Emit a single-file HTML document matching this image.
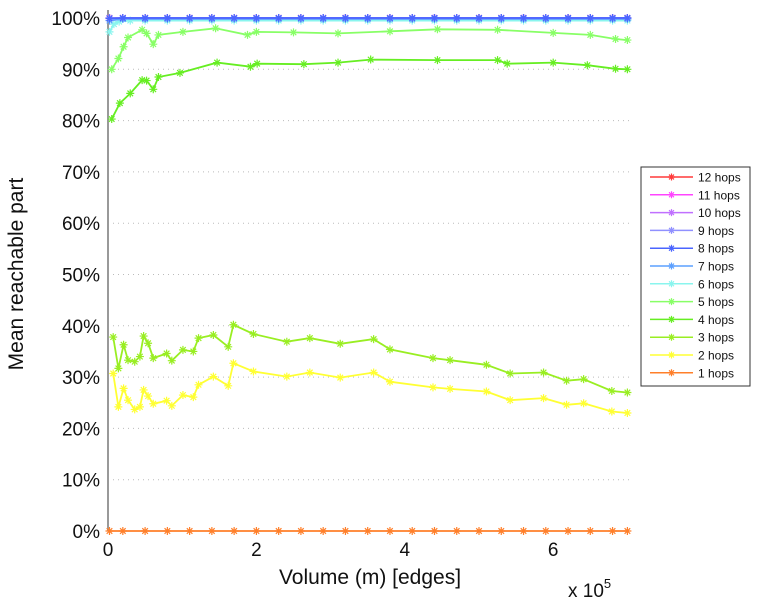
<!DOCTYPE html>
<html><head><meta charset="utf-8"><style>
body{margin:0;background:#fff}
svg{display:block;font-family:"Liberation Sans",sans-serif}
</style></head><body>
<svg id="chart" width="760" height="600" viewBox="0 0 760 600" xmlns="http://www.w3.org/2000/svg">
<rect width="760" height="600" fill="#fff"/>
<g id="grid"></g><g id="axes"></g><g id="series"></g><g id="legend"></g>
</svg>
<script>
const yTicks=[0,10,20,30,40,50,60,70,80,90,100];
const xTicks=[0,2,4,6];
const seriesNames=["12 hops","11 hops","10 hops","9 hops","8 hops","7 hops","6 hops","5 hops","4 hops","3 hops","2 hops","1 hops"];
const xFlat=[0.02,0.2,0.5,0.8,1.1,1.4,1.7,2.0,2.3,2.6,2.9,3.2,3.5,3.8,4.1,4.4,4.7,5.0,5.3,5.6,5.9,6.2,6.5,6.8,7.0];
const v12=[100,100,100,100,100,100,100,100,100,100,100,100,100,100,100,100,100,100,100,100,100,100,100,100,100];
const v11=[100,100,100,100,100,100,100,100,100,100,100,100,100,100,100,100,100,100,100,100,100,100,100,100,100];
const v10=[100,100,100,100,100,100,100,100,100,100,100,100,100,100,100,100,100,100,100,100,100,100,100,100,100];
const v9=[100,100,100,100,100,100,100,100,100,100,100,100,100,100,100,100,100,100,100,100,100,100,100,100,100];
const v8=[99.9,100,100,100,100,100,100,100,100,100,100,100,100,100,100,100,100,100,100,100,100,100,100,100,100];
const v7=[99.5,99.8,99.8,99.8,99.8,99.8,99.8,99.8,99.8,99.8,99.8,99.8,99.8,99.8,99.8,99.8,99.8,99.8,99.8,99.8,99.8,99.8,99.8,99.8,99.8];
const x6=[0.02,0.08,0.15,0.3,0.5,0.8,1.1,1.4,1.7,2.0,2.3,2.6,2.9,3.2,3.5,3.8,4.1,4.4,4.7,5.0,5.3,5.6,5.9,6.2,6.5,6.8,7.0];
const v6=[97.3,98.8,99.3,99.5,99.5,99.5,99.5,99.5,99.5,99.5,99.5,99.5,99.5,99.5,99.5,99.5,99.5,99.5,99.5,99.5,99.5,99.5,99.5,99.5,99.5,99.5,99.5];
const x5=[0.05,0.14,0.21,0.27,0.46,0.52,0.61,0.68,1.01,1.45,1.88,2.0,2.5,3.1,3.8,4.44,5.25,6.0,6.5,6.84,7.0];
const v5=[90.0,92.1,94.4,96.2,97.7,97.0,94.9,96.7,97.3,98.0,96.7,97.3,97.2,97.0,97.4,97.8,97.7,97.1,96.7,95.9,95.7];
const x4=[0.05,0.16,0.3,0.46,0.52,0.61,0.68,0.97,1.47,1.92,2.01,2.64,3.1,3.54,4.44,5.25,5.38,6.0,6.46,6.84,7.0];
const v4=[80.3,83.4,85.3,87.9,87.8,86.1,88.5,89.3,91.3,90.5,91.1,91.0,91.3,91.9,91.8,91.8,91.1,91.3,90.8,90.1,90.0];
const x23=[0.07,0.14,0.21,0.27,0.36,0.43,0.48,0.54,0.61,0.79,0.86,1.01,1.15,1.22,1.42,1.62,1.69,1.96,2.41,2.72,3.13,3.58,3.80,4.38,4.61,5.10,5.42,5.87,6.18,6.41,6.79,7.0];
const v3=[37.8,31.7,36.3,33.3,33.0,34.0,38.0,36.6,33.7,34.6,33.2,35.3,35.0,37.6,38.2,35.9,40.2,38.4,36.9,37.6,36.5,37.4,35.4,33.7,33.3,32.4,30.7,30.9,29.3,29.6,27.3,27.0];
const v2=[30.7,24.2,27.8,25.5,23.7,24.2,27.5,26.3,24.8,25.4,24.4,26.5,26.1,28.5,30.1,28.3,32.7,31.1,30.1,30.9,29.9,30.9,29.1,28.0,27.7,27.2,25.5,25.9,24.6,24.9,23.3,23.0];
const v1=[0,0,0,0,0,0,0,0,0,0,0,0,0,0,0,0,0,0,0,0,0,0,0,0,0];
const colors=["#ff3a3a","#ff44ff","#c070ff","#9090ff","#4a64ff","#5ca0ff","#8af5ee","#88ff66","#66ee22","#99ee22","#ffff33","#ff7f2a"];
const seriesData=[[xFlat,v12],[xFlat,v11],[xFlat,v10],[xFlat,v9],[xFlat,v8],[xFlat,v7],[x6,v6],[x5,v5],[x4,v4],[x23,v3],[x23,v2],[xFlat,v1]];
const drawOrder=[11,10,9,8,7,0,1,2,6,5,3,4];

const NS="http://www.w3.org/2000/svg";
const X0=108,XPX=74.2,Y0=531,YPX=5.13;
function sx(v){return X0+v*XPX;}
function sy(v){return Y0-v*YPX;}
function mk(tag,attrs,parent,text){const e=document.createElementNS(NS,tag);for(const k in attrs)e.setAttribute(k,attrs[k]);if(text!==undefined)e.textContent=text;parent.appendChild(e);return e;}
const grid=document.getElementById('grid'),axes=document.getElementById('axes'),ser=document.getElementById('series'),leg=document.getElementById('legend');

yTicks.forEach(t=>{
  if(t>0){const g=mk('line',{x1:X0,x2:630,y1:sy(t),y2:sy(t),stroke:'#bbb','stroke-width':1,'stroke-dasharray':'1,4'},grid);
  
  }
  const l=mk('text',{x:100,y:sy(t)+7,'text-anchor':'end','font-size':19,fill:'#111'},axes,t+'%');
  
  
});
xTicks.forEach(t=>{
  const l=mk('text',{x:sx(t),y:556,'text-anchor':'middle','font-size':19,fill:'#111'},axes,String(t));
  
  
});
let a=mk('line',{x1:X0,x2:X0,y1:10,y2:Y0,stroke:'#999','stroke-width':2},axes);


a=mk('line',{x1:X0,x2:630,y1:Y0,y2:Y0,stroke:'#999','stroke-width':1},axes);


let t=mk('text',{x:370,y:584,'text-anchor':'middle','font-size':21,fill:'#111'},axes,'Volume (m) [edges]');


t=mk('text',{x:568,y:597,'font-size':19,fill:'#111'},axes,'x 10');


mk('tspan',{dy:-9,'font-size':13},t,'5');
t=mk('text',{x:0,y:0,'text-anchor':'middle','font-size':21,fill:'#111',transform:'translate(23,274) rotate(-90)'},axes,'Mean reachable part');



function star(g,x,y,c,r){
  const d=`M${x-r},${y}L${x+r},${y}M${x},${y-r}L${x},${y+r}M${x-r*0.7},${y-r*0.7}L${x+r*0.7},${y+r*0.7}M${x-r*0.7},${y+r*0.7}L${x+r*0.7},${y-r*0.7}`;
  mk('path',{d:d,stroke:c,'stroke-width':1.2,fill:'none'},g);
}
drawOrder.forEach(i=>{
  const [xs,ys]=seriesData[i];
  const g=mk('g',{},ser);
  
  
  const pts=xs.map((x,j)=>sx(x).toFixed(1)+','+sy(ys[j]).toFixed(1)).join(' ');
  mk('polyline',{points:pts,fill:'none',stroke:colors[i],'stroke-width':1.8},g);
  xs.forEach((x,j)=>star(g,sx(x),sy(ys[j]),colors[i],4));
});
const box=mk('rect',{x:641,y:167,width:109,height:219,fill:'#fff',stroke:'#333','stroke-width':1},leg);


seriesNames.forEach((n,i)=>{
  const y=177+i*17.8;
  const g=mk('g',{},leg);
  
  
  mk('line',{x1:650,x2:693,y1:y,y2:y,stroke:colors[i],'stroke-width':1.5},g);
  star(g,671.5,y,colors[i],3.5);
  mk('text',{x:698,y:y+4.5,'font-size':12,fill:'#111'},g,n);
});
</script>
</body></html>
